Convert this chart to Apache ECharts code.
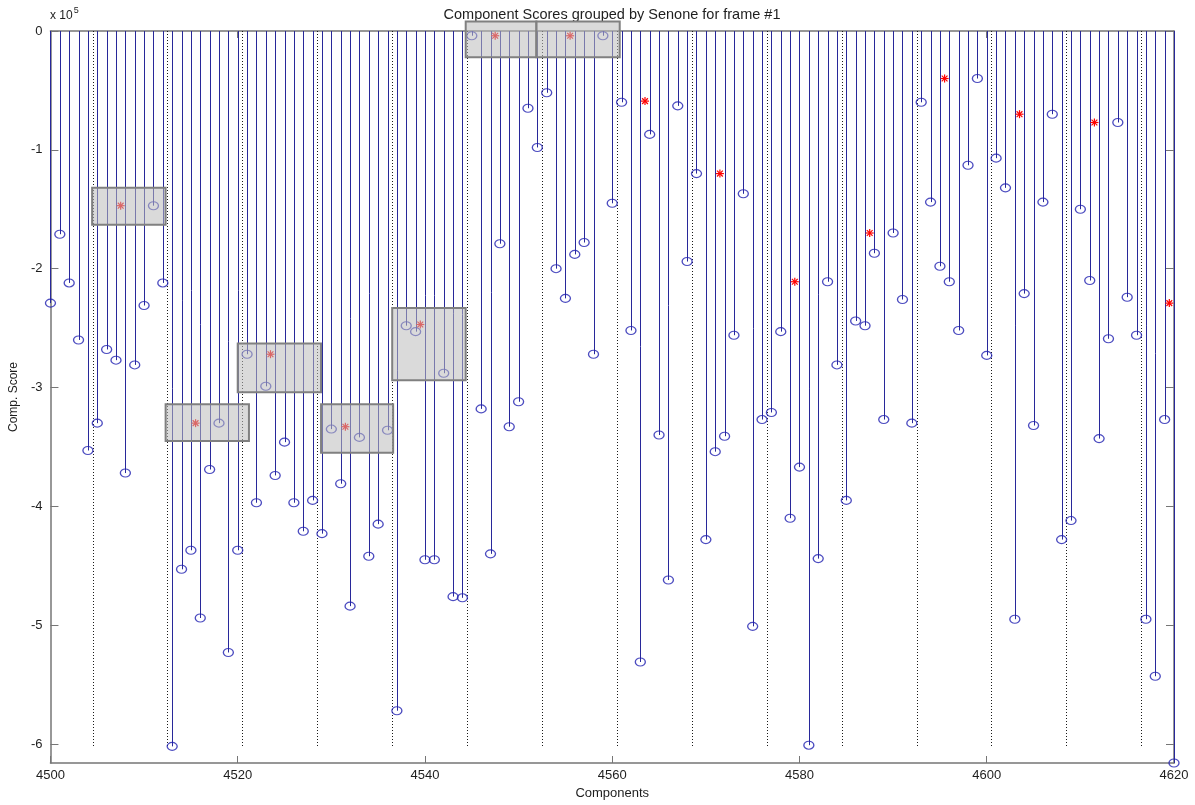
<!DOCTYPE html>
<html>
<head>
<meta charset="utf-8">
<title>Component Scores grouped by Senone for frame #1</title>
<script src="https://cdn.jsdelivr.net/npm/echarts@6/dist/echarts.min.js"></script>
<style>
  html, body { margin: 0; padding: 0; background: #ffffff; }
  #chart { width: 1195px; height: 805px; }
</style>
</head>
<body>
<div id="chart"></div>
<script>
// Component index of the first score below; components are consecutive integers.
const firstComponent = 4500;

// Gaussian component scores for frame #1, components 4500..4620.
const componentScores = [
  -2.29e5, -1.71e5, -2.12e5, -2.60e5, -3.53e5, -3.30e5, -2.68e5, -2.77e5, -3.72e5, -2.81e5,
  -2.31e5, -1.47e5, -2.12e5, -6.02e5, -4.53e5, -4.37e5, -4.94e5, -3.69e5, -3.30e5, -5.23e5,
  -4.37e5, -2.72e5, -3.97e5, -2.99e5, -3.74e5, -3.46e5, -3.97e5, -4.21e5, -3.95e5, -4.23e5,
  -3.35e5, -3.81e5, -4.84e5, -3.42e5, -4.42e5, -4.15e5, -3.36e5, -5.72e5, -2.48e5, -2.53e5,
  -4.45e5, -4.45e5, -2.88e5, -4.76e5, -4.77e5, -0.04e5, -3.18e5, -4.40e5, -1.79e5, -3.33e5,
  -3.12e5, -0.65e5, -0.98e5, -0.52e5, -2.00e5, -2.25e5, -1.88e5, -1.78e5, -2.72e5, -0.04e5,
  -1.45e5, -0.60e5, -2.52e5, -5.31e5, -0.87e5, -3.40e5, -4.62e5, -0.63e5, -1.94e5, -1.20e5,
  -4.28e5, -3.54e5, -3.41e5, -2.56e5, -1.37e5, -5.01e5, -3.27e5, -3.21e5, -2.53e5, -4.10e5,
  -3.67e5, -6.01e5, -4.44e5, -2.11e5, -2.81e5, -3.95e5, -2.44e5, -2.48e5, -1.87e5, -3.27e5,
  -1.70e5, -2.26e5, -3.30e5, -0.60e5, -1.44e5, -1.98e5, -2.11e5, -2.52e5, -1.13e5, -0.40e5,
  -2.73e5, -1.07e5, -1.32e5, -4.95e5, -2.21e5, -3.32e5, -1.44e5, -0.70e5, -4.28e5, -4.12e5,
  -1.50e5, -2.10e5, -3.43e5, -2.59e5, -0.77e5, -2.24e5, -2.56e5, -4.95e5, -5.43e5, -3.27e5,
  -6.16e5
];

// Boundaries between senones (dotted separators).
const senoneEdges = [4504.5, 4512.5, 4520.5, 4528.5, 4536.5, 4544.5, 4552.5, 4560.5,
                     4568.5, 4576.5, 4584.5, 4592.5, 4600.5, 4608.5, 4616.5];
const separatorBottom = -6.03e5;

// Best score of each senone, marked at the senone position.
const senonePositions = [4507.5, 4515.5, 4523.5, 4531.5, 4539.5, 4547.5, 4555.5, 4563.5,
                         4571.5, 4579.5, 4587.5, 4595.5, 4603.5, 4611.5, 4619.5];
const senoneBest = [-1.47e5, -3.30e5, -2.72e5, -3.33e5, -2.47e5, -0.04e5, -0.04e5, -0.59e5,
                    -1.20e5, -2.11e5, -1.70e5, -0.40e5, -0.70e5, -0.77e5, -2.29e5];

// Highlighted regions: [fromComponent, toComponent, upperScore, lowerScore].
const highlightBoxes = [
  [4504.45, 4512.3, -1.32e5, -1.63e5],
  [4512.3, 4521.2, -3.14e5, -3.45e5],
  [4520.0, 4528.9, -2.63e5, -3.04e5],
  [4528.9, 4536.6, -3.14e5, -3.55e5],
  [4536.5, 4544.35, -2.33e5, -2.94e5],
  [4544.35, 4551.9, 0.08e5, -0.22e5],
  [4551.9, 4560.8, 0.08e5, -0.22e5]
];

// Axis ticks.
const xTickStep = 20;
const yTickValues = [0, -1e5, -2e5, -3e5, -4e5, -5e5, -6e5];
const yExponent = 1e5;

const STEM_COLOR = '#28289a';
const MARKER_COLOR = '#1f1fb0';
const AXIS_COLOR = '#767676';
const TEXT_COLOR = '#1e1e1e';
const FONT = 'Liberation Sans, Arial, sans-serif';

const GRID = { left: 50, right: 21, top: 31, bottom: 38 };
const CHART_W = 1195;

const stemData = componentScores.map((v, i) => [firstComponent + i, v]);
const xMin = firstComponent;
const xMax = firstComponent + componentScores.length - 1;
const yMin = Math.min.apply(null, componentScores);

const chart = echarts.init(document.getElementById('chart'), null, { renderer: 'canvas' });

const axisLabelStyle = { color: TEXT_COLOR, fontFamily: FONT, fontSize: 13 };

chart.setOption({
  animation: false,
  backgroundColor: '#ffffff',
  graphic: [{
    // title, centred over the plot area
    type: 'text',
    x: GRID.left + (CHART_W - GRID.left - GRID.right) / 2,
    y: 15,
    style: {
      text: 'Component Scores grouped by Senone for frame #1',
      fontFamily: FONT,
      fontSize: 14.5,
      fill: TEXT_COLOR,
      align: 'center',
      verticalAlign: 'middle',
      textAlign: 'center',
      textVerticalAlign: 'middle'
    }
  }, {
    // axis exponent
    type: 'text',
    left: 50,
    top: 6,
    style: {
      text: '{b|x 10}{s|5}',
      rich: {
        b: { fontFamily: FONT, fontSize: 12, fill: TEXT_COLOR, padding: [6, 0, 0, 0] },
        s: { fontFamily: FONT, fontSize: 9, fill: TEXT_COLOR, padding: [0, 0, 4, 1] }
      }
    }
  }],
  grid: { left: GRID.left, right: GRID.right, top: GRID.top, bottom: GRID.bottom, containLabel: false },
  xAxis: [{
    type: 'value',
    min: xMin,
    max: xMax,
    interval: xTickStep,
    name: 'Components',
    nameLocation: 'middle',
    nameGap: 24,
    nameTextStyle: { color: TEXT_COLOR, fontFamily: FONT, fontSize: 13 },
    axisLine: { show: true, onZero: false, lineStyle: { color: AXIS_COLOR, width: 1.5 } },
    axisTick: { show: true, inside: true, length: 7, lineStyle: { color: AXIS_COLOR } },
    axisLabel: Object.assign({ margin: 6, formatter: v => String(v) }, axisLabelStyle),
    splitLine: { show: false }
  }, {
    type: 'value',
    position: 'top',
    min: xMin,
    max: xMax,
    interval: xTickStep,
    axisLine: { show: true, onZero: false, lineStyle: { color: AXIS_COLOR, width: 1.5 } },
    axisTick: { show: true, inside: true, length: 7, lineStyle: { color: AXIS_COLOR } },
    axisLabel: { show: false },
    splitLine: { show: false }
  }],
  yAxis: [{
    type: 'value',
    min: yMin,
    max: 0,
    name: 'Comp. Score',
    nameLocation: 'middle',
    nameGap: 30,
    nameRotate: 90,
    nameTextStyle: { color: TEXT_COLOR, fontFamily: FONT, fontSize: 12 },
    axisLine: { show: true, onZero: false, lineStyle: { color: AXIS_COLOR, width: 1.5 } },
    axisTick: { show: true, inside: true, length: 8, customValues: yTickValues, lineStyle: { color: AXIS_COLOR } },
    axisLabel: Object.assign({
      margin: 8,
      customValues: yTickValues,
      formatter: v => String(Math.round(v / yExponent))
    }, axisLabelStyle),
    splitLine: { show: false }
  }, {
    type: 'value',
    position: 'right',
    min: yMin,
    max: 0,
    axisLine: { show: true, onZero: false, lineStyle: { color: AXIS_COLOR, width: 1.5 } },
    axisTick: { show: true, inside: true, length: 8, customValues: yTickValues, lineStyle: { color: AXIS_COLOR } },
    axisLabel: { show: false },
    splitLine: { show: false }
  }],
  series: [
    {
      // dotted senone separators
      type: 'custom',
      z: 1,
      data: senoneEdges.map(x => [x, separatorBottom]),
      encode: { x: 0, y: 1 },
      renderItem: function (params, api) {
        const top = api.coord([api.value(0), 0]);
        const bot = api.coord([api.value(0), api.value(1)]);
        const x = Math.round(top[0]) + 0.5;
        return {
          type: 'line',
          shape: { x1: x, y1: top[1], x2: x, y2: bot[1] },
          style: { stroke: '#1a1a1a', lineWidth: 1, lineDash: [1, 2] }
        };
      }
    },
    {
      // stems
      type: 'custom',
      z: 2,
      data: stemData,
      encode: { x: 0, y: 1 },
      renderItem: function (params, api) {
        const top = api.coord([api.value(0), 0]);
        const bot = api.coord([api.value(0), api.value(1)]);
        const x = Math.round(top[0]) + 0.5;
        return {
          type: 'line',
          shape: { x1: x, y1: top[1], x2: x, y2: bot[1] },
          style: { stroke: STEM_COLOR, lineWidth: 1 }
        };
      }
    },
    {
      // stem heads
      type: 'scatter',
      z: 3,
      data: stemData,
      symbol: 'circle',
      symbolSize: [10, 8],
      itemStyle: { color: 'rgba(0,0,0,0)', borderColor: MARKER_COLOR, borderWidth: 1.2 },
      emphasis: { disabled: true },
      silent: true
    },
    {
      // best score of each senone
      type: 'custom',
      z: 4,
      data: senonePositions.map((x, i) => [x, senoneBest[i]]),
      encode: { x: 0, y: 1 },
      renderItem: function (params, api) {
        const c = api.coord([api.value(0), api.value(1)]);
        const r = 4, d = 2.9;
        const style = { stroke: '#ff0000', lineWidth: 1.2 };
        return {
          type: 'group',
          children: [
            { type: 'line', shape: { x1: c[0] - r, y1: c[1], x2: c[0] + r, y2: c[1] }, style: style },
            { type: 'line', shape: { x1: c[0], y1: c[1] - r, x2: c[0], y2: c[1] + r }, style: style },
            { type: 'line', shape: { x1: c[0] - d, y1: c[1] - d, x2: c[0] + d, y2: c[1] + d }, style: style },
            { type: 'line', shape: { x1: c[0] - d, y1: c[1] + d, x2: c[0] + d, y2: c[1] - d }, style: style }
          ]
        };
      }
    },
    {
      // highlighted regions
      type: 'custom',
      z: 5,
      clip: false,
      data: highlightBoxes,
      encode: { x: [0, 1], y: [2, 3] },
      renderItem: function (params, api) {
        const a = api.coord([api.value(0), api.value(2)]);
        const b = api.coord([api.value(1), api.value(3)]);
        return {
          type: 'rect',
          shape: { x: a[0], y: a[1], width: b[0] - a[0], height: b[1] - a[1] },
          style: { fill: 'rgba(188,188,188,0.55)', stroke: '#808080', lineWidth: 2 }
        };
      }
    }
  ]
});
</script>
</body>
</html>
